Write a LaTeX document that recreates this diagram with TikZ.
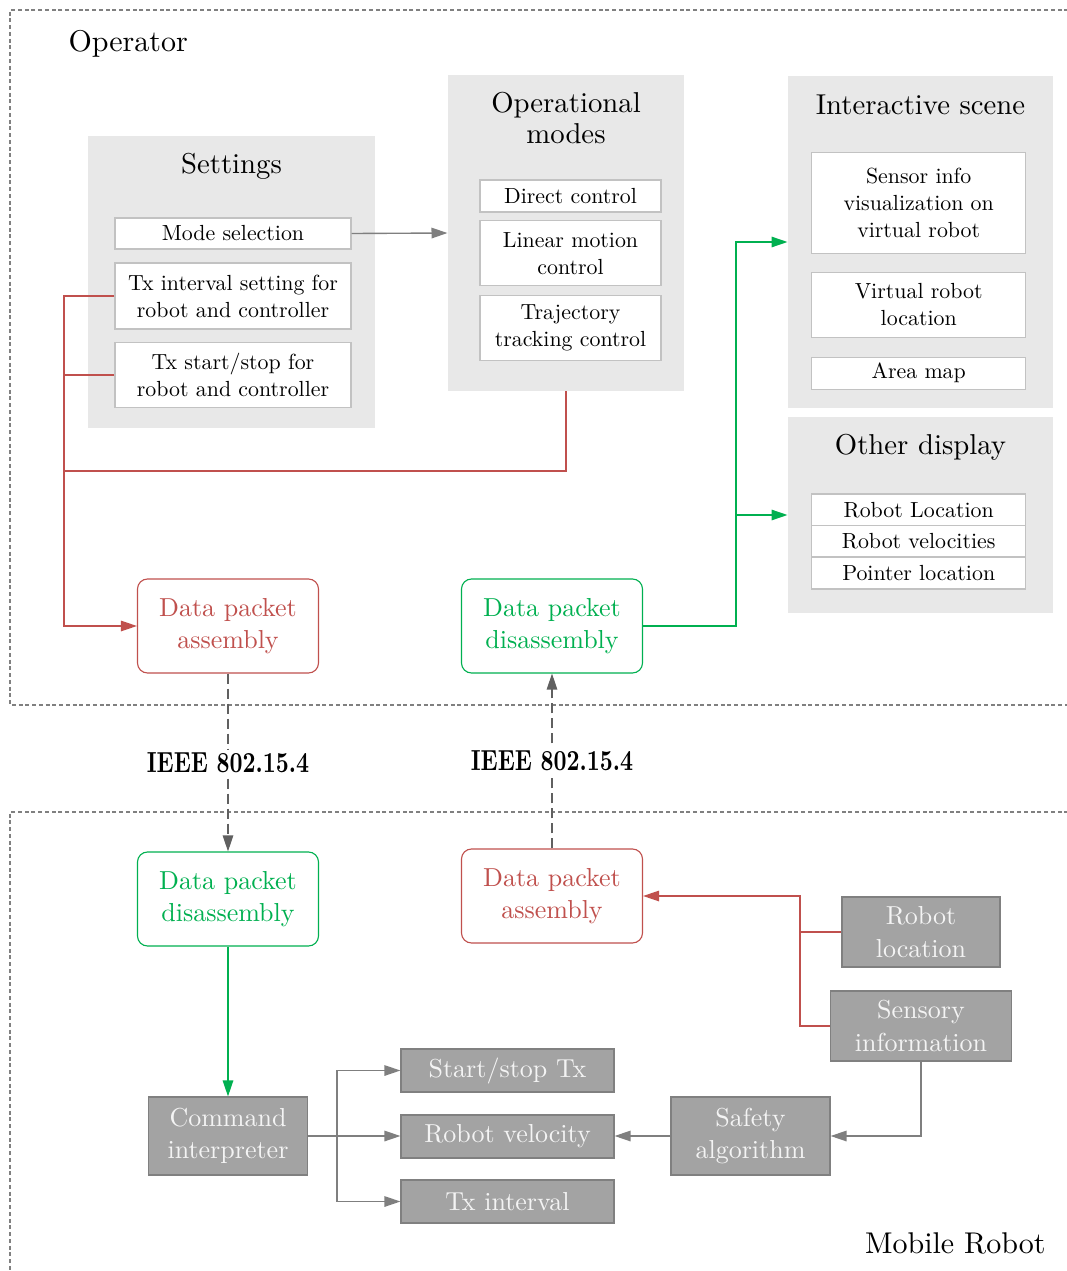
\documentclass[tikz,border=0pt]{standalone}
\usepackage{graphicx}
\usepackage{fontspec}
\setmainfont{lmroman10-regular.otf}[BoldFont=lmroman10-bold.otf]
\usetikzlibrary{arrows.meta}

\definecolor{panel}{HTML}{E8E8E8}
\definecolor{itemline}{HTML}{C2C2C2}
\definecolor{redc}{HTML}{C0504D}
\definecolor{greenc}{HTML}{00B050}
\definecolor{darkbox}{HTML}{A3A3A3}
\definecolor{darkline}{HTML}{808080}
\definecolor{boxtext}{HTML}{F4F4F4}
\definecolor{zone}{HTML}{808080}
\definecolor{link}{HTML}{7F7F7F}
\definecolor{radio}{HTML}{606060}

\newcommand\fsZone{\fontsize{12}{14}\selectfont}
\newcommand\fsTitle{\fontsize{11.5}{12.2}\selectfont}
\newcommand\fsItem{\fontsize{8.75}{10.8}\selectfont}
\newcommand\fsBlock{\fontsize{10.4}{12.9}\selectfont}
\newcommand\fsRadio{\fontsize{11.6}{13}\selectfont\bfseries}

\begin{document}
\begin{tikzpicture}[x=0.4pt,y=-0.4pt,
  sz/.style 2 args={minimum width=#1*0.4pt, minimum height=#2*0.4pt},
  panelbox/.style={fill=panel, inner sep=0pt},
  paneltitle/.style={inner sep=0pt, align=center, font=\fsTitle},
  item/.style={draw=itemline, fill=white, line width=0.45pt, inner sep=0pt, align=center, font=\fsItem},
  packet/.style={draw=#1, text=#1, fill=white, rounded corners=4pt, line width=0.45pt,
                 inner sep=0pt, align=center, font=\fsBlock, minimum width=181*0.4pt, minimum height=94*0.4pt},
  block/.style={draw=darkline, fill=darkbox, text=boxtext, line width=0.45pt,
                inner sep=0pt, align=center, font=\fsBlock},
  zoneline/.style={draw=zone, line width=0.6pt, dash pattern=on 1.6pt off 1.1pt},
  tip/.style={-{Triangle[length=6.4pt, width=4.2pt]}},
  redline/.style={draw=redc, line width=0.55pt},
  greenline/.style={draw=greenc, line width=0.55pt},
  grayline/.style={draw=link, line width=0.55pt},
  radiolink/.style={draw=radio, line width=0.5pt, dash pattern=on 4pt off 2pt},
]
\useasboundingbox (0,0) rectangle (1066,1271);

% ---------- zones ----------
\draw[zoneline] (1075,10) -- (10,10) -- (10,705) -- (1075,705);
\draw[zoneline] (1075,812) -- (10,812) -- (10,1280);
\node[anchor=base west, inner sep=0pt, font=\fsZone] (opzone) at (68,51.7) {Operator};
\node[anchor=base east, inner sep=0pt, font=\fsZone] (robzone) at (1046,1253) {Mobile Robot};

% ---------- operator panels ----------
\node[panelbox, sz={287}{292}] (set) at (231.5,282) {};
\node[paneltitle] (settitle) at (231.5,166) {Settings};
\node[item, sz={236}{31}] (mode) at (233,233.5) {Mode selection};
\node[item, sz={236}{66}] (txi) at (233,296) {Tx interval setting for\\robot and controller};
\node[item, sz={236}{65}] (txs) at (233,375) {Tx start/stop for\\robot and controller};

\node[panelbox, sz={236}{316}] (ops) at (566,233) {};
\node[paneltitle] (opstitle) at (566,118) {Operational\\modes};
\node[item, sz={181}{32}] (dir) at (570.5,196) {Direct control};
\node[item, sz={181}{65}] (lin) at (570.5,253.3) {Linear motion\\control};
\node[item, sz={181}{65}] (traj) at (570.5,328) {Trajectory\\tracking control};

\node[panelbox, sz={265}{332}] (isc) at (920.5,242) {};
\node[paneltitle] (isctitle) at (920.5,105) {Interactive scene};
\node[item, sz={214}{101}] (sinfo) at (918.7,202.8) {Sensor info\\visualization on\\virtual robot};
\node[item, sz={214}{65}] (vloc) at (918.7,305) {Virtual robot\\location};
\node[item, sz={214}{32}] (amap) at (918.7,373.2) {Area map};

\node[panelbox, sz={265}{196}] (oth) at (920.5,515) {};
\node[paneltitle] (othtitle) at (920.5,447) {Other display};
\node[item, sz={214}{32}] (rl) at (918.7,510) {Robot Location};
\node[item, sz={214}{31.5}] (rv) at (918.7,541.5) {Robot velocities};
\node[item, sz={214}{32}] (pl) at (918.7,573) {Pointer location};

% ---------- packet blocks ----------
\node[packet=redc] (pa1) at (228,626) {Data packet\\assembly};
\node[packet=greenc] (pd1) at (552,626) {Data packet\\disassembly};
\node[packet=greenc] (pd2) at (228,899) {Data packet\\disassembly};
\node[packet=redc] (pa2) at (552,896) {Data packet\\assembly};

% ---------- robot blocks ----------
\node[block, sz={158}{70}] (rloc) at (921,932) {Robot\\location};
\node[block, sz={181}{70}] (sens) at (921,1026) {Sensory\\information};
\node[block, sz={159}{78}] (cmd) at (228,1136) {Command\\interpreter};
\node[block, sz={213}{43}] (sst) at (507.5,1070.5) {Start/stop Tx};
\node[block, sz={213}{43}] (rvel) at (507.5,1136.5) {Robot velocity};
\node[block, sz={213}{43}] (txv) at (507.5,1201.5) {Tx interval};
\node[block, sz={159}{78}] (saf) at (750.5,1136) {Safety\\algorithm};

% ---------- operator connectors ----------
\draw[grayline, tip] (mode.east) -- (ops.west);

\coordinate (rbus) at (64,296);
\coordinate (rjoin) at (64,471);
\draw[redline, tip] (txi.west) -- (txi.west -| rbus) |- (pa1.west);
\draw[redline] (txs.west) -- (txs.west -| rbus);
\draw[redline] (ops.south) |- (rjoin);

\coordinate (gbus) at (736,626);
\draw[greenline, tip] (pd1.east) -- (gbus) |- (isc.west);
\draw[greenline, tip] (gbus) |- (oth.west);

% ---------- radio links ----------
\draw[radiolink, tip] (pa1.south) -- node[fill=white, inner sep=1pt, font=\fsRadio]
  {\scalebox{0.78}[1]{IEEE 802.15.4}} (pd2.north);
\draw[radiolink, tip] (pa2.north) -- node[fill=white, inner sep=1pt, font=\fsRadio]
  {\scalebox{0.78}[1]{IEEE 802.15.4}} (pd1.south);

% ---------- robot connectors ----------
\coordinate (rb) at (800,932);
\draw[redline, tip] (rloc.west) -- (rb) |- (pa2.east);
\draw[redline] (sens.west) -| (rb);

\draw[greenline, tip] (pd2.south) -- (cmd.north);

\coordinate (cb) at (337,1136);
\draw[grayline] (cmd.east) -- (cb);
\draw[grayline, tip] (cb) |- (sst.west);
\draw[grayline, tip] (cb) -- (rvel.west |- cb);
\draw[grayline, tip] (cb) |- (txv.west);

\draw[grayline, tip] (saf.west) -- (rvel.east |- saf.west);
\draw[grayline, tip] (sens.south) |- (saf.east);
\end{tikzpicture}
\end{document}
